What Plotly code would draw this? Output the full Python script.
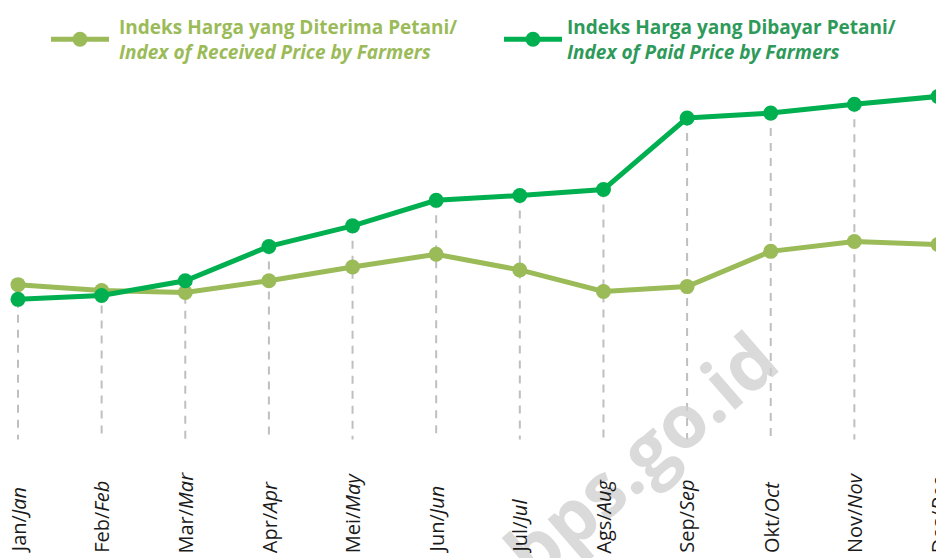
import plotly.graph_objects as go

months_id = ["Jan", "Feb", "Mar", "Apr", "Mei", "Jun", "Jul", "Ags", "Sep", "Okt", "Nov", "Des"]
months_en = ["Jan", "Feb", "Mar", "Apr", "May", "Jun", "Jul", "Aug", "Sep", "Oct", "Nov", "Dec"]

received = [100.80, 100.50, 100.40, 101.00, 101.70, 102.35, 101.55, 100.45, 100.70, 102.50, 103.00, 102.85]
paid = [100.05, 100.25, 101.00, 102.75, 103.80, 105.10, 105.35, 105.65, 109.30, 109.55, 110.00, 110.40]

drop_base = 92.9
x = list(range(len(months_id)))

C_RECV = "#9BBB59"
C_PAID = "#00B050"
C_PAID_TXT = "#2E9A5A"

W, H = 944, 558

fig = go.Figure()

# dashed drop lines
dx, dy = [], []
for i in x:
    dx += [i, i, None]
    dy += [max(received[i], paid[i]), drop_base, None]
fig.add_trace(go.Scatter(x=dx, y=dy, mode="lines", showlegend=False, hoverinfo="skip",
                         line=dict(color="#BFBFBF", width=2, dash="8px,7px")))

fig.add_trace(go.Scatter(
    x=x, y=received, mode="lines+markers",
    name="&nbsp;<b><span style='color:%s'>Indeks Harga yang Diterima Petani/</span></b><br>&nbsp;<b><i><span style='color:%s'>Index of Received Price by Farmers</span></i></b>" % (C_RECV, C_RECV),
    line=dict(color=C_RECV, width=5), marker=dict(color=C_RECV, size=15)))
fig.add_trace(go.Scatter(
    x=x, y=paid, mode="lines+markers",
    name="<b><span style='color:%s'>Indeks Harga yang Dibayar Petani/</span></b><br><b><i><span style='color:%s'>Index of Paid Price by Farmers</span></i></b>" % (C_PAID_TXT, C_PAID_TXT),
    line=dict(color=C_PAID, width=5), marker=dict(color=C_PAID, size=15)))

# watermark
fig.add_annotation(x=632 / W, y=1 - 444 / H, xref="paper", yref="paper", text="<b>bps.go.id</b>",
                   showarrow=False, textangle=-41, xanchor="center", yanchor="middle",
                   font=dict(family="Open Sans", size=74, color="rgba(205,205,205,0.75)"))

for i in x:
    fig.add_annotation(x=i, y=11 / H, xref="x", yref="paper",
                       text="%s/<i>%s</i>" % (months_id[i], months_en[i]),
                       showarrow=False, textangle=-90, xanchor="center", yanchor="bottom",
                       font=dict(family="Open Sans", size=20, color="#1a1a1a"))

fig.update_layout(
    width=W, height=H,
    margin=dict(l=0, r=0, t=0, b=0),
    paper_bgcolor="white", plot_bgcolor="white",
    xaxis=dict(range=[-0.1196, 11.1674], visible=False, fixedrange=True),
    yaxis=dict(range=[86.45, 114.35], visible=False, fixedrange=True),
    showlegend=True,
    legend=dict(orientation="h", x=0.043, y=1.021, xanchor="left", yanchor="top",
                font=dict(family="Open Sans", size=19), itemwidth=58,
                entrywidth=380,
                bgcolor="rgba(0,0,0,0)", traceorder="normal"),
)

fig.write_html("out.html")
